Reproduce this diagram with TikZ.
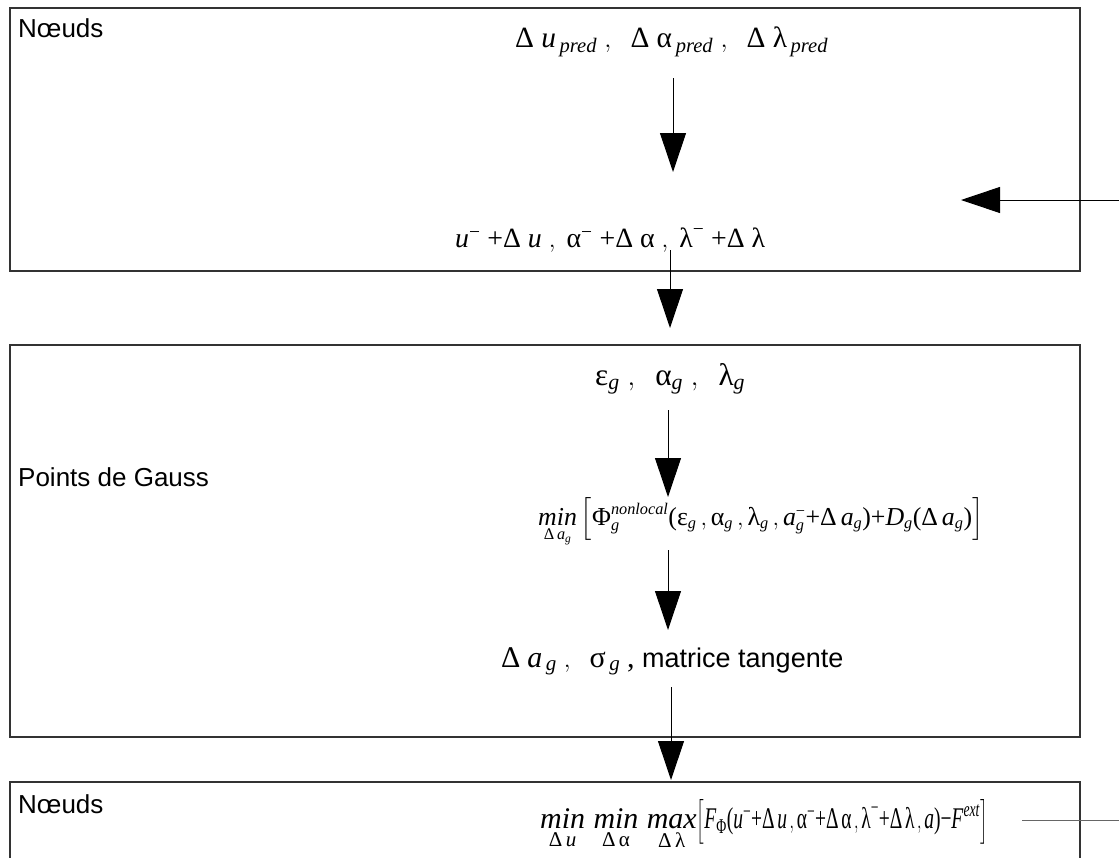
\documentclass[tikz,border=0pt]{standalone}
\usepackage{fontspec}
\usepackage{amsmath}
\usepackage{graphicx}
\setmainfont{Liberation Serif}
\newfontfamily\lsans{Liberation Sans}
\usetikzlibrary{arrows.meta}
\newcommand{\tx}[1]{\text{#1}}
\newcommand{\vi}[1]{\text{\textit{#1}}}
\newcommand{\si}[1]{\hbox{\fontsize{17}{17}\selectfont\textit{#1}}}
\newcommand{\sr}[1]{\hbox{\fontsize{17}{17}\selectfont #1}}
\newcommand{\ssi}[1]{\hbox{\fontsize{12}{12}\selectfont\textit{#1}}}
\newcommand{\mplus}{\mathord{\tx{+}}}
\newcommand{\mminus}{\mathord{\tx{−}}}
\begin{document}
\begin{tikzpicture}[x=1pt,y=-1pt,
  box/.style={draw=black!80, line width=1.2pt, minimum width=1070pt, inner sep=0pt},
  flow/.style={-{Triangle[width=26pt,length=39pt]}, line width=1pt},
  lbl/.style={font=\lsans\fontsize{26}{30}\selectfont, anchor=base west, inner sep=0pt},
  eq/.style={font=\fontsize{28}{32}\selectfont, anchor=base west, inner sep=0pt}]
\useasboundingbox (0,0) rectangle (1119,857);
\clip (0,0) rectangle (1119,857);
% boxes
\node[box, minimum height=263pt] (b1) at (545,139.5) {};
\node[box, minimum height=392pt] (b2) at (545,541) {};
\node[box, minimum height=100pt] (b3) at (545,832) {};
% labels
\node[lbl] (n1) at (18,37) {Nœuds};
\node[lbl] (n2) at (18,486) {Points de Gauss};
\node[lbl] (n3) at (18,813) {Nœuds};
% formulas
\node[eq] (t1) at (515,47) {\resizebox{313pt}{!}{$\tx{Δ}\;\vi{u}_{\,\vi{pred}}\;,\ \ \tx{Δ}\;\tx{α}_{\,\vi{pred}}\;,\ \ \tx{Δ}\;\tx{λ}_{\,\vi{pred}}$}};
\node[eq] (t2) at (455,247) {\resizebox{310pt}{!}{$\vi{u}^{\tx{−}}\;\mplus\tx{Δ}\;\vi{u}\;,\ \tx{α}^{\tx{−}}\;\mplus\tx{Δ}\;\tx{α}\;,\ \tx{λ}^{\tx{−}}\;\mplus\tx{Δ}\;\tx{λ}$}};
\node[eq] (t3) at (595,385) {\resizebox{150pt}{!}{$\tx{ε}_{\vi{g}}\;,\ \ \tx{α}_{\vi{g}}\;,\ \ \tx{λ}_{\vi{g}}$}};
\node[eq, font=\fontsize{27}{30}\selectfont] (t4) at (538,525) {\scalebox{0.957}{$\mathop{\vi{min}}\limits_{\sr{Δ}\,\si{a}_{\ssi{g}}}\left[\tx{Φ}_{\si{g}}^{\si{nonlocal}}\tx{(}\tx{ε}_{\si{g}}\,,\tx{α}_{\si{g}}\,,\tx{λ}_{\si{g}}\,,\vi{a}_{\si{g}}^{\sr{−}}\mplus\tx{Δ}\,\vi{a}_{\si{g}}\tx{)}\mplus\vi{D}_{\si{g}}\tx{(}\tx{Δ}\,\vi{a}_{\si{g}}\tx{)}\right]$}};
\node[eq, font=\fontsize{30}{34}\selectfont] (t5) at (501,667) {$\tx{Δ}\;\vi{a}_{\,\vi{g}}\;,\ \ \tx{σ}_{\,\vi{g}}\;$,\ {\lsans\fontsize{27}{30}\selectfont matrice tangente}};
\node[eq, font=\fontsize{30}{34}\selectfont] (t6) at (540,828) {$\mathop{\vi{min}}\limits_{\tx{Δ}\,\vi{u}}\,\mathop{\vi{min}}\limits_{\tx{Δ}\,\tx{α}}\,\mathop{\vi{max}}\limits_{\tx{Δ}\,\tx{λ}}$\scalebox{0.65}[1]{$\left[\vi{F}_{\tx{Φ}}\tx{(}\vi{u}^{\tx{−}}\mplus\tx{Δ}\,\vi{u}\,,\tx{α}^{\tx{−}}\mplus\tx{Δ}\,\tx{α}\,,\tx{λ}^{\tx{−}}\mplus\tx{Δ}\,\tx{λ}\,,\vi{a}\tx{)}\mminus\vi{F}^{\vi{ext}}\right]$}};
% connector ends
\coordinate (a1s) at (673,78);  \coordinate (a1e) at (673,172);
\coordinate (a2s) at (670,250); \coordinate (a2e) at (670,328);
\coordinate (a3s) at (668,410); \coordinate (a3e) at (668,497);
\coordinate (a4s) at (668,550); \coordinate (a4e) at (668,630);
\coordinate (a5s) at (671,687); \coordinate (a5e) at (671,780);
\coordinate (hs) at (1119,200); \coordinate (he) at (961,200);
\coordinate (ls) at (1022,820); \coordinate (le) at (1119,820);
\draw[flow] (a1s) -- (a1e);
\draw[flow] (a2s) -- (a2e);
\draw[flow] (a3s) -- (a3e);
\draw[flow] (a4s) -- (a4e);
\draw[flow] (a5s) -- (a5e);
\draw[flow] (hs) -- (he);
\draw[line width=1pt, black!60] (ls) -- (le);
\end{tikzpicture}
\end{document}
